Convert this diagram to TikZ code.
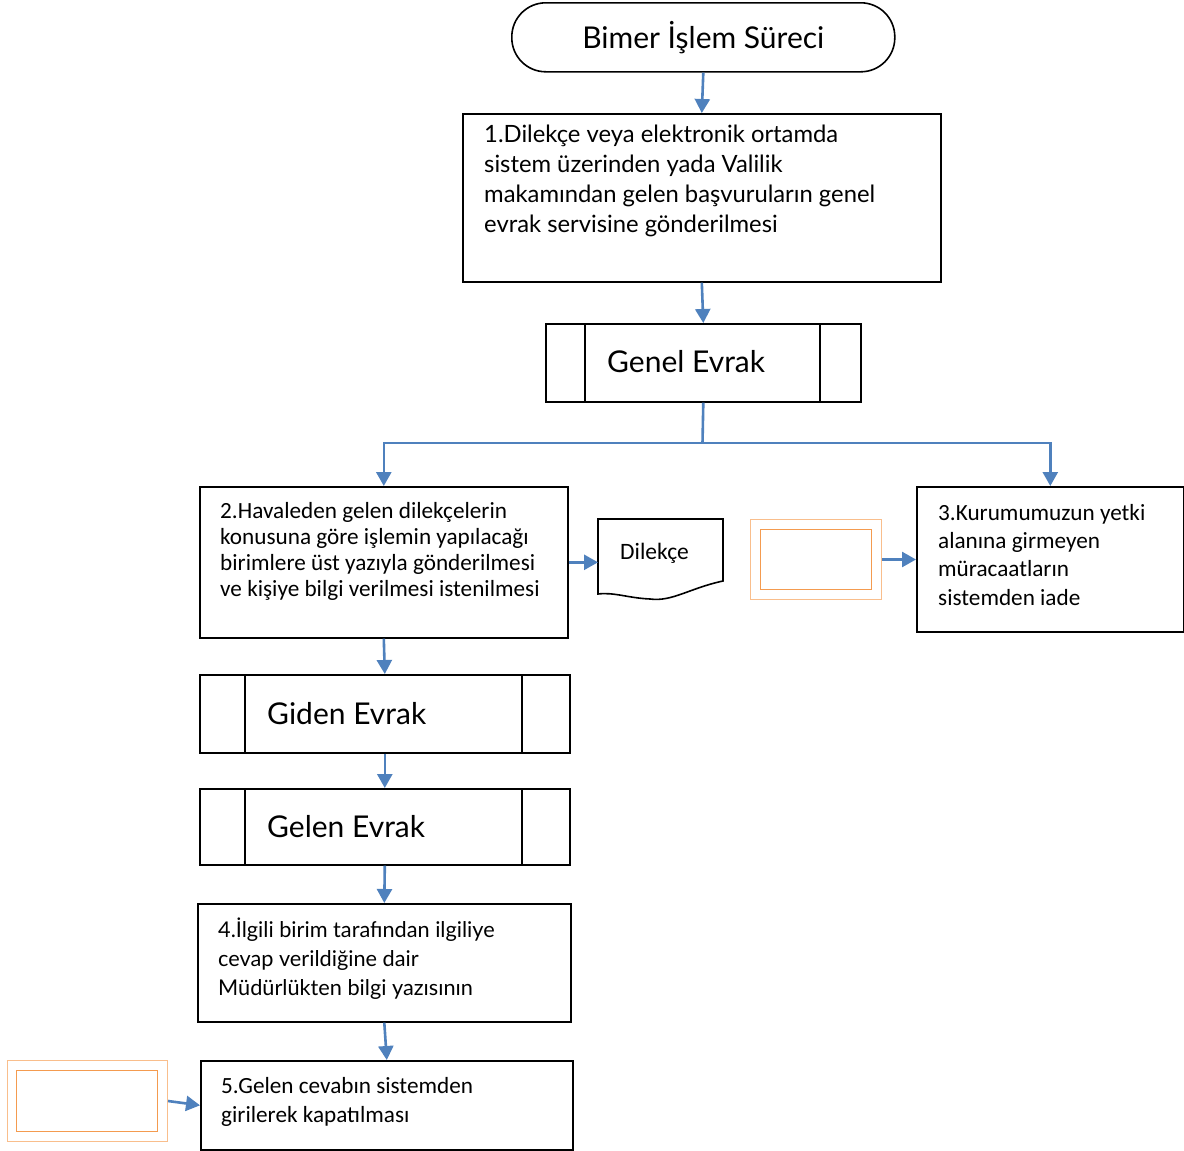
\documentclass[tikz,border=0pt]{standalone}
\usepackage{fontspec}
\usetikzlibrary{arrows.meta}
\newfontfamily\gillf{Lato}
\newfontfamily\calibf{Carlito}
\definecolor{arrblue}{HTML}{4F81BD}
\definecolor{orlight}{HTML}{F9BE8C}
\definecolor{ordark}{HTML}{F49B4F}
\begin{document}
\begin{tikzpicture}[x=1pt,y=-1pt,
  box/.style={draw=black,line width=1.6pt,rectangle,anchor=north west,inner sep=0pt},
  arr/.style={draw=arrblue,line width=2.6pt,-{Triangle[length=14pt,width=15pt]}},
  txt/.style={anchor=north west,inner sep=0pt,align=left},
  orout/.style={draw=orlight,line width=1pt,rectangle,anchor=north west,inner sep=0pt},
  orin/.style={draw=ordark,line width=1pt,rectangle,anchor=north west,inner sep=0pt}]
\useasboundingbox (0,0) rectangle (1184,1151);
\fill[white] (0,0) rectangle (1184,1151);

% terminator
\node[draw=black,line width=1.6pt,rounded corners=34pt,minimum width=383pt,minimum height=69pt,inner sep=0pt,anchor=north west] (term) at (511,2) {};
\node[font=\gillf\fontsize{30}{36}\selectfont,inner sep=0pt] (termt) at (term.center) {Bimer İşlem Süreci};

% box 1
\node[box,minimum width=478pt,minimum height=168pt] (b1) at (462,113) {};
\node[txt,font=\gillf\fontsize{23.8}{30}\selectfont] (b1t) at (484,125) {1.Dilekçe veya elektronik ortamda\\sistem üzerinden yada Valilik\\makamından gelen başvuruların genel\\evrak servisine gönderilmesi};

% Genel Evrak
\node[box,minimum width=315pt,minimum height=78pt] (ge) at (545,323) {};
\draw[line width=1.6pt] (585,323) -- (585,401) (820,323) -- (820,401);
\node[txt,anchor=west,font=\gillf\fontsize{30}{36}\selectfont] (get) at (607,362) {Genel Evrak};

% box 2
\node[box,minimum width=368pt,minimum height=151pt] (b2) at (199,486) {};
\node[txt,font=\calibf\fontsize{23.2}{26}\selectfont] (b2t) at (220,502) {2.Havaleden gelen dilekçelerin\\konusuna göre işlemin yapılacağı\\birimlere üst yazıyla gönderilmesi\\ve kişiye bilgi verilmesi istenilmesi};

% Dilekçe document
\node[inner sep=0pt,minimum width=125pt,minimum height=62pt,anchor=north west] (dk) at (598,519) {};
\draw[line width=1.6pt,fill=white] (598,519) -- (723,519) -- (723,581)
  .. controls (690,588) and (672,602) .. (650,599)
  .. controls (628,598) and (614,592) .. (598,594) -- cycle;
\node[txt,anchor=west,font=\calibf\fontsize{23.5}{26}\selectfont] (dkt) at (620,553) {Dilekçe};

% orange box right
\node[orout,minimum width=131pt,minimum height=80pt] (o1) at (750,519) {};
\node[orin,minimum width=111pt,minimum height=60pt] (o1i) at (760,529) {};

% box 3
\node[box,minimum width=267pt,minimum height=145pt] (b3) at (916,486) {};
\node[txt,font=\calibf\fontsize{23.2}{28.3}\selectfont] (b3t) at (938,504) {3.Kurumumuzun yetki\\alanına girmeyen\\müracaatların\\sistemden iade};

% Giden Evrak
\node[box,minimum width=370pt,minimum height=78pt] (gi) at (199,674) {};
\draw[line width=1.6pt] (245,674) -- (245,752) (522,674) -- (522,752);
\node[txt,anchor=west,font=\gillf\fontsize{30}{36}\selectfont] (git) at (267,714) {Giden Evrak};

% Gelen Evrak
\node[box,minimum width=370pt,minimum height=76pt] (gl) at (199,788) {};
\draw[line width=1.6pt] (245,788) -- (245,864) (522,788) -- (522,864);
\node[txt,anchor=west,font=\gillf\fontsize{30}{36}\selectfont] (glt) at (267,827) {Gelen Evrak};

% box 4
\node[box,minimum width=373pt,minimum height=118pt] (b4) at (197,903) {};
\node[txt,font=\gillf\fontsize{21.7}{29}\selectfont] (b4t) at (218,918) {4.İlgili birim tarafından ilgiliye\\cevap verildiğine dair\\Müdürlükten bilgi yazısının};

% box 5
\node[box,minimum width=372pt,minimum height=89pt] (b5) at (200,1060) {};
\node[txt,font=\calibf\fontsize{23.2}{29}\selectfont] (b5t) at (221,1077) {5.Gelen cevabın sistemden\\girilerek kapatılması};

% orange box bottom
\node[orout,minimum width=160pt,minimum height=81pt] (o2) at (7,1060) {};
\node[orin,minimum width=141pt,minimum height=61pt] (o2i) at (16,1070) {};

% connectors
\coordinate (br) at (702.5,443);
\draw[arr] (term.south) -- (b1.north);
\draw[arr] (b1.south) -- (ge.north);
\draw[draw=arrblue,line width=2.6pt] (ge.south) -- (br);
\draw[arr] (br) -| (b2.north);
\draw[arr] (br) -| (b3.north);
\draw[arr] (b2.east) -- (dk.west |- b2.east);
\draw[arr] (o1.east) -- (b3.west |- o1.east);
\draw[arr] (b2.south) -- (gi.north);
\draw[arr] (gi.south) -- (gl.north);
\draw[arr] (gl.south) -- (b4.north);
\draw[arr] (b4.south) -- (b5.north);
\draw[arr] (o2.east) -- (b5.west);
\end{tikzpicture}
\end{document}
